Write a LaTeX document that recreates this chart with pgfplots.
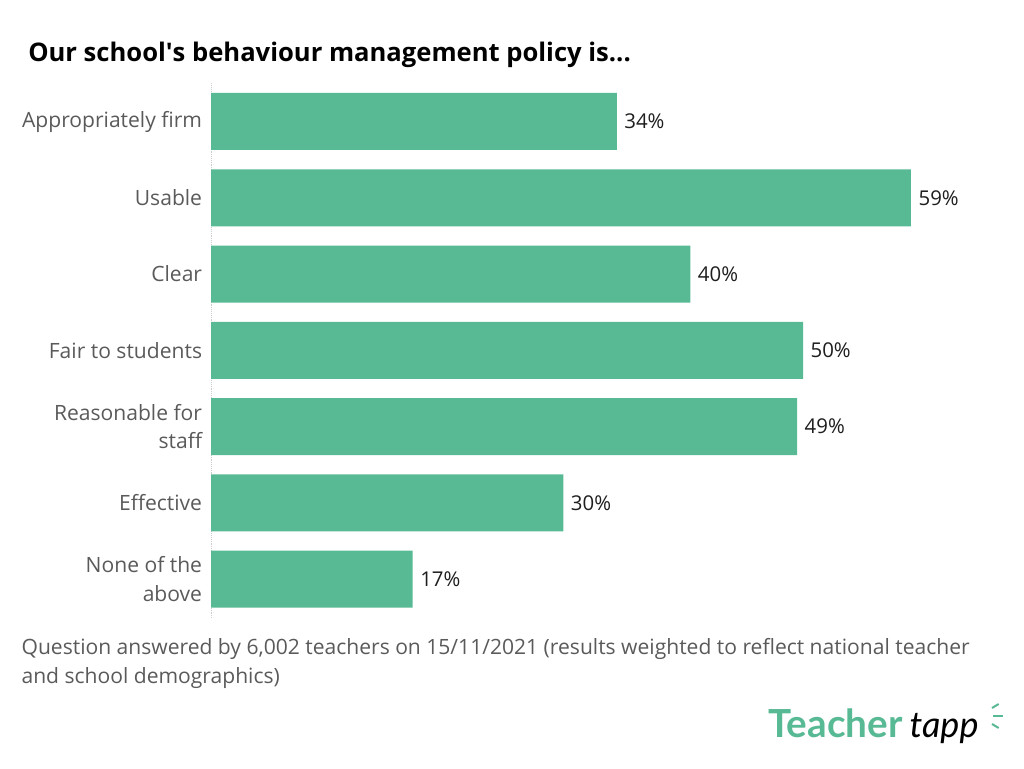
\documentclass[border=0pt]{standalone}
\usepackage{fontspec}
\setmainfont{Open Sans}
\newfontfamily\logofont{Lato}
\usepackage{pgfplots}
\pgfplotsset{compat=1.18}
\definecolor{bargreen}{RGB}{88,186,148}
\definecolor{labgray}{RGB}{90,90,90}
\definecolor{valblack}{RGB}{30,30,30}
\begin{document}
\begin{tikzpicture}
\path[use as bounding box] (0,0) rectangle (768pt,576pt);
\node[anchor=base west, inner sep=0pt, font=\fontsize{19.2}{22}\selectfont\bfseries] at (21pt,529.5pt) {Our school\textquotesingle s behaviour management policy is...};
\begin{axis}[
  at={(158.25pt,513.5pt)}, anchor=north west,
  scale only axis, width=525pt, height=400.5pt,
  xbar, bar width=42.75pt,
  xmin=0, xmax=59,
  ymin=-0.5, ymax=6.5,
  y dir=reverse,
  hide x axis,
  axis y line*=left,
  y axis line style={draw=gray!40, densely dotted},
  ytick={0,1,2,3,4,5,6},
  yticklabels={Appropriately firm,Usable,Clear,Fair to students,{Reasonable for\\staff},Effective,{None of the\\above}},
  major tick length=0pt,
  yticklabel style={align=right, font=\fontsize{15.8}{21.5}\selectfont, text=labgray, inner sep=0pt, xshift=-6.5pt},
  clip=false,
  point meta=explicit symbolic,
  nodes near coords={\pgfplotspointmeta\%},
  nodes near coords style={font=\fontsize{15.3}{18}\selectfont, text=valblack, anchor=west, inner sep=0pt, xshift=5.5pt},
]
\addplot[fill=bargreen, draw=none] coordinates {(34.2,0) [34] (59.0,1) [59] (40.4,2) [40] (49.9,3) [50] (49.4,4) [49] (29.7,5) [30] (17.0,6) [17]};
\end{axis}
\node[anchor=base west, inner sep=0pt, align=left, text=labgray, font=\fontsize{15.8}{21.75}\selectfont] at (16pt,63.75pt) {Question answered by 6,002 teachers on 15/11/2021 (results weighted to reflect national teacher\\and school demographics)};
\node[anchor=base west, inner sep=0pt, text=bargreen, font=\fontsize{29}{30}\selectfont\logofont\bfseries] at (576pt,23.25pt) {Teacher};
\node[anchor=base west, inner sep=0pt, text=black, font=\fontsize{27}{30}\selectfont\logofont\itshape] at (682pt,23.25pt) {tapp};
\draw[bargreen, line width=1.5pt] (744pt,45pt) -- (749pt,48pt);
\draw[bargreen, line width=1.5pt] (745pt,39pt) -- (752pt,39pt);
\draw[bargreen, line width=1.5pt] (744pt,33pt) -- (749pt,30pt);
\end{tikzpicture}
\end{document}
